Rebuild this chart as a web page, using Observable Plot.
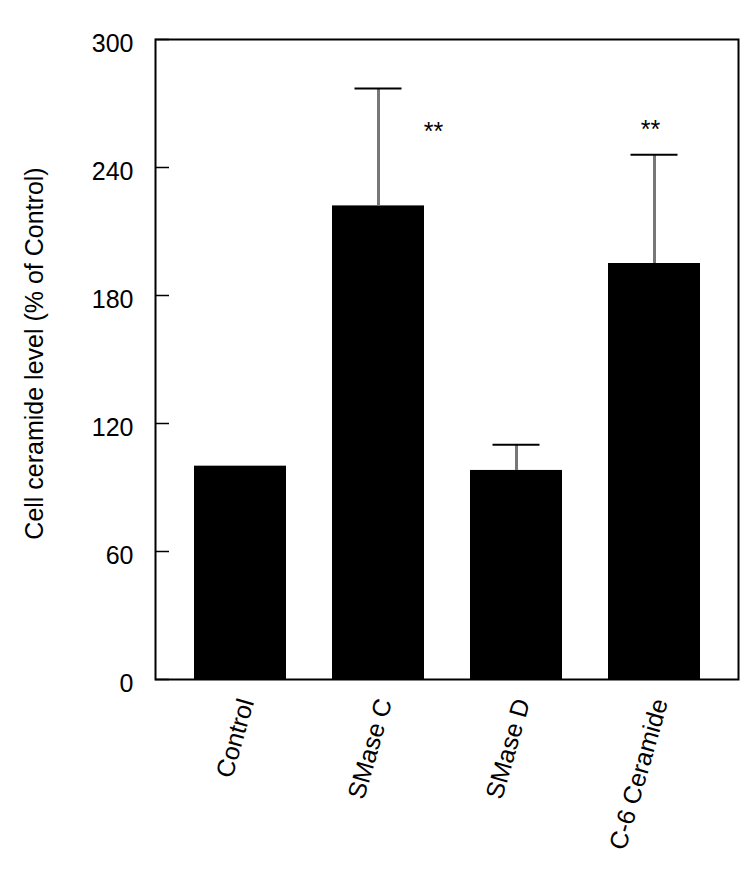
<!DOCTYPE html>
<html><head><meta charset="utf-8">
<script src="https://cdn.jsdelivr.net/npm/d3@7"></script>
<script src="https://cdn.jsdelivr.net/npm/@observablehq/plot@0.6"></script>
<style>body{margin:0;background:#fff;}</style>
</head><body><div id="chart"></div>
<script>
const categories = ["Control", "SMase C", "SMase D", "C-6 Ceramide"];
const means = [100, 222, 98, 195];
const sds = [0, 55, 12, 51];
const sigLabels = ["", "**", "", "**"];
const sigY = [null, 259, null, 261];
const yTicks = [0, 60, 120, 180, 240, 300];
const yLabel = "Cell ceramide level (% of Control)";

const data = categories.map((c, i) => ({cat: c, mean: means[i], sd: sds[i], top: means[i] + sds[i], sig: sigLabels[i], sigY: sigY[i]}));
const withErr = data.filter(d => d.sd > 0);
const font = "'Liberation Sans', Arial, Helvetica, sans-serif";

const chart = Plot.plot({
  width: 750,
  height: 875,
  marginLeft: 155,
  marginRight: 12,
  marginTop: 39,
  marginBottom: 196,
  style: {fontFamily: font, fontSize: "25px", background: "#fff", color: "#000"},
  x: {type: "band", domain: categories, paddingInner: 0.335, paddingOuter: 0.275, axis: null},
  y: {domain: [0, 300], axis: null},
  marks: [
    Plot.barY(data, {x: "cat", y: "mean", fill: "black"}),
    Plot.ruleX(withErr, {x: "cat", y1: "mean", y2: "top", stroke: "#777", strokeWidth: 3}),
    Plot.tickY(withErr, {x: "cat", y: "top", stroke: "black", strokeWidth: 2, insetLeft: 22.5, insetRight: 22.5}),
    Plot.tickY(yTicks, {y: d => d, stroke: "black", strokeWidth: 1.5, insetRight: 569}),
    Plot.axisY(yTicks, {tickSize: 0, tickPadding: 22, fontSize: 25, dy: 4, label: null}),
    Plot.text([yLabel], {text: d => d, frameAnchor: "left", textAnchor: "middle", rotate: -90, dx: -121, dy: -6, fontSize: 25}),
    Plot.text(data, {x: "cat", text: "cat", frameAnchor: "bottom", rotate: -74, textAnchor: "end", lineAnchor: "middle", dx: 6, dy: 20, fontSize: 25}),
    Plot.text(data.filter(d => d.cat === "SMase C"), {x: "cat", y: "sigY", text: "sig", dx: 55, dy: 5, fontSize: 25}),
    Plot.text(data.filter(d => d.cat === "C-6 Ceramide"), {x: "cat", y: "sigY", text: "sig", dx: -4, dy: 7, fontSize: 25}),
    Plot.frame({stroke: "black", strokeWidth: 2})
  ]
});
document.getElementById("chart").appendChild(chart);
</script>
</body></html>
